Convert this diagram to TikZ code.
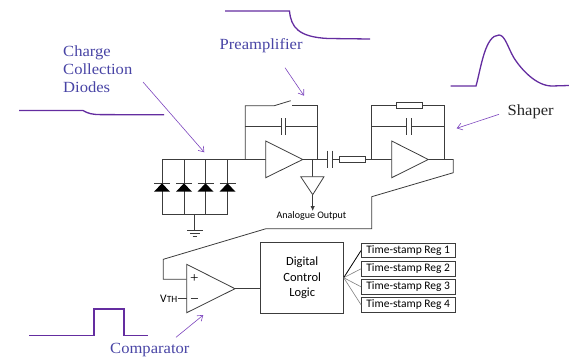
\documentclass[tikz,border=0pt]{standalone}
\usepackage{fontspec}
\setmainfont[FakeStretch=1.07]{Liberation Serif}
\setsansfont{Carlito}
\usetikzlibrary{arrows.meta}
\definecolor{labelblue}{RGB}{72,68,165}
\definecolor{pulse}{RGB}{100,45,160}
\definecolor{pointer}{RGB}{125,70,190}
\definecolor{wire}{RGB}{60,60,60}
\tikzset{
  ckt/.style={draw=wire,line width=0.8pt},
  plate/.style={draw=wire,line width=1pt},
  wave/.style={draw=pulse,line width=1.3pt},
  pointerline/.style={draw=pointer,line width=0.6pt,-{Straight Barb[length=5pt,width=7pt]}},
  caption/.style={text=labelblue,font=\fontsize{15.5}{18}\selectfont,inner sep=0pt,anchor=west},
  ampbody/.style={draw=wire,line width=0.8pt,fill=white},
  resbox/.style={draw=wire,line width=0.8pt,fill=white,minimum width=25.5pt,minimum height=6pt,inner sep=0pt},
  regbox/.style={draw=wire,line width=0.8pt,minimum width=93.5pt,minimum height=14.5pt,inner sep=0pt,font=\sffamily\fontsize{11.5}{12}\selectfont},
  smalltext/.style={font=\sffamily\fontsize{11.5}{12}\selectfont,inner sep=0pt}
}
\begin{document}
\begin{tikzpicture}[x=1pt,y=-1pt]
  \useasboundingbox (0,0) rectangle (569,359);

  % captions
  \node[caption,align=left,text width=80pt] (chargelabel) at (63,69) {Charge\\Collection\\Diodes};
  \node[caption] (preamplabel) at (219.5,46) {Preamplifier};
  \node[caption,text=black!85] (shaperlabel) at (507.5,112) {Shaper};
  \node[caption] (complabel) at (110,350) {Comparator};

  % pulses
  \draw[wave] (19,110.5) -- (83,110.5) .. controls (88,113.5) and (92,114.5) .. (100,114.6) -- (164,114.8);
  \draw[wave] (225,11) -- (289.5,11) .. controls (291,27) and (298,37) .. (328,38.5) -- (370,39);
  \draw[wave] (450.5,86) -- (476,86) .. controls (481,68) and (485,35) .. (499,35) .. controls (505,35) and (508,48) .. (514,58) .. controls (521,69) and (536,86) .. (552,86) -- (569,85.5);
  \draw[wave] (29,335.7) -- (94,335.7) -- (94,309) -- (124,309) -- (124,335.7) -- (147.7,335.7);

  % pointers
  \coordinate (chargefrom) at (143,82);
  \coordinate (chargeto) at (204.3,152.3);
  \coordinate (preampfrom) at (285,67.7);
  \coordinate (preampto) at (304,95.7);
  \coordinate (shaperfrom) at (499,114.3);
  \coordinate (shaperto) at (456.7,128.3);
  \coordinate (compfrom) at (176,337.3);
  \coordinate (compto) at (203.3,315);
  \draw[pointerline] (chargefrom) -- (chargeto);
  \draw[pointerline] (preampfrom) -- (preampto);
  \draw[pointerline] (shaperfrom) -- (shaperto);
  \draw[pointerline] (compfrom) -- (compto);

  % diodes
  \draw[ckt] (162,159.5) -- (265.7,159.5);
  \draw[ckt] (162,214.5) -- (227.5,214.5);
  \foreach \x in {162,184,205.5,227.5}
  {
    \draw[ckt] (\x,159.5) -- (\x,214.5);
    \draw[plate] (\x-8,183.3) -- (\x+8,183.3);
    \fill[black] (\x,183.3) -- (\x+8,191.7) -- (\x-8,191.7) -- cycle;
  }
  % masa
  \draw[ckt] (194.5,214.5) -- (194.5,230.7);
  \draw[ckt] (187,230.7) -- (202.5,230.7);
  \draw[ckt] (190,233.7) -- (199.5,233.7);
  \draw[ckt] (192.5,236.7) -- (196.5,236.7);

  % preamplifier
  \draw[ckt] (245.3,159.5) -- (245.3,105.7) -- (274.3,105.7) -- (290.7,100.7);
  \draw[ckt] (292,105.7) -- (317.7,105.7) -- (317.7,159.5);
  \draw[ckt] (245.3,126.7) -- (281,126.7);
  \draw[ckt] (285.7,126.7) -- (317.7,126.7);
  \draw[plate] (281,118) -- (281,135);
  \draw[plate] (285.7,118) -- (285.7,135);
  \draw[ckt] (302.7,159.5) -- (327.7,159.5);
  \draw[ampbody] (265.7,141) -- (302.7,159.5) -- (265.7,177.7) -- cycle;
  \draw[plate] (327.7,150.7) -- (327.7,168);
  \draw[plate] (332,150.7) -- (332,168);

  % buffer
  \draw[ckt] (312.7,159.5) -- (312.7,176.7);
  \draw[ampbody] (300.7,176.7) -- (324,176.7) -- (312.7,194.7) -- cycle;
  \draw[ckt,-{Latex[length=5pt,width=4.5pt]}] (312.7,194.7) -- (312.7,211);
  \node[font=\sffamily\fontsize{10}{11}\selectfont,inner sep=0pt] (analogue) at (311.5,216) {Analogue Output};

  % shaper
  \node[resbox] (coupleres) at (352.2,159.5) {};
  \draw[ckt] (332,159.5) -- (coupleres.west);
  \draw[ckt] (coupleres.east) -- (391.7,159.5);
  \node[resbox] (feedres) at (409.2,105.7) {};
  \draw[ckt] (feedres.west) -- (371.3,105.7) -- (371.3,159.5);
  \draw[ckt] (feedres.east) -- (444,105.7) -- (444,159.5);
  \draw[ckt] (371.3,126.7) -- (406.7,126.7);
  \draw[ckt] (411.3,126.7) -- (444,126.7);
  \draw[plate] (406.7,118) -- (406.7,135);
  \draw[plate] (411.3,118) -- (411.3,135);
  \draw[ampbody] (391.7,141) -- (428.3,159.5) -- (391.7,177.7) -- cycle;

  % spre comparator
  \draw[ckt] (428.3,159.5) -- (453.3,159.5) -- (453.3,172.7) -- (371.7,196.7) -- (371.7,228.7) -- (266,228.7) -- (163.3,259.3) -- (163.3,279.3) -- (186.7,279.3);

  % comparator
  \draw[ampbody] (186.7,264.3) -- (235,288.7) -- (186.7,312.7) -- cycle;
  \node[inner sep=0pt,font=\fontsize{14}{14}\selectfont] (plus) at (194.3,279) {+};
  \node[inner sep=0pt,minimum width=7pt,minimum height=0pt] (minus) at (194.3,298.7) {};
  \draw[wire,line width=0.9pt] (minus.west) -- (minus.east);
  \node[smalltext,anchor=east] (vth) at (177.5,298.7) {V\fontsize{9.5}{10}\selectfont TH};
  \draw[ckt] (vth.east) -- (186.7,298.7);

  % logic
  \node[draw=wire,line width=0.8pt,minimum width=83pt,minimum height=70.6pt,inner sep=0pt,align=center,
    font=\sffamily\fontsize{12.5}{15.5}\selectfont] (logic) at (302.2,278) {Digital\\Control\\Logic};
  \draw[ckt] (235,288.7) -- (logic.west |- 0,288.7);

  % registre
  \foreach \i/\y in {1/250.5,2/268.8,3/286.8,4/304.8}
  {
    \node[regbox] (reg\i) at (408.2,\y) {Time-stamp Reg \i};
  }
  \coordinate (fan) at (343.7,277.7);
  \draw[ckt,draw=black] (fan) -- (reg1.west);
  \foreach \i in {2,3,4}
    \draw[ckt,draw=gray,line width=0.6pt] (fan) -- (reg\i.west);
\end{tikzpicture}
\end{document}
